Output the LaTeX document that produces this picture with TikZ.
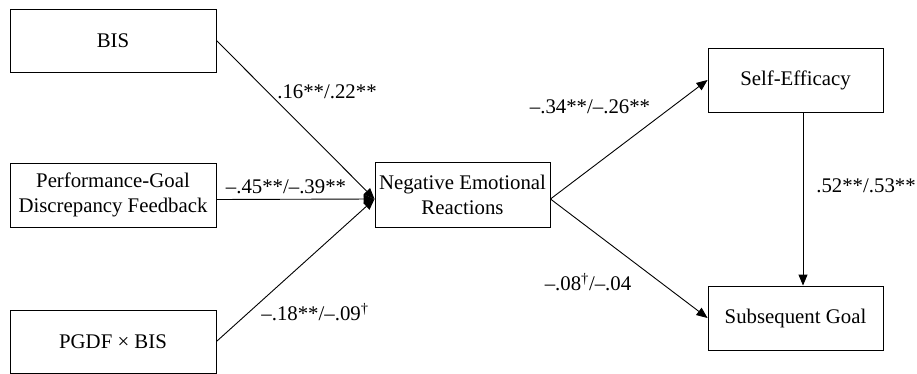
\documentclass[tikz,border=0pt]{standalone}
\usepackage{fontspec}
\setmainfont{Liberation Serif}
\usetikzlibrary{arrows.meta}
\begin{document}
\begin{tikzpicture}[x=1pt,y=-1pt,
  box/.style={draw, line width=0.9pt, inner sep=0pt, align=center, font=\rmfamily\fontsize{20.8}{25}\selectfont},
  lbl/.style={font=\rmfamily\fontsize{20.8}{25}\selectfont, inner sep=0pt},
  conn/.style={line width=0.9pt, -{Triangle[length=11pt,width=9pt]}}]
\useasboundingbox (0,0) rectangle (917,374);
\node[box, minimum width=206pt, minimum height=63pt] (bis) at (113,40.5) {BIS};
\node[box, minimum width=206pt, minimum height=64pt] (pgdf) at (113,195) {Performance-Goal\\Discrepancy Feedback};
\node[box, minimum width=206pt, minimum height=63pt] (int) at (113,341.5) {PGDF × BIS};
\node[box, minimum width=175pt, minimum height=65pt] (ner) at (462.5,194.5) {Negative Emotional\\Reactions};
\node[box, minimum width=175pt, minimum height=64pt] (se) at (795.5,80) {Self-Efficacy};
\node[box, minimum width=175pt, minimum height=64pt] (sg) at (795.5,318) {Subsequent Goal};
\coordinate (nin) at ([yshift=-4.5pt]ner.west);
\coordinate (nout) at ([yshift=-4.5pt]ner.east);
\coordinate (pout) at ([yshift=-4.5pt]pgdf.east);
\draw[conn] (bis.east) -- (nin);
\draw[conn] (pout) -- (nin);
\draw[conn] (int.east) -- (nin);
\draw[conn] (nout) -- (se.west);
\draw[conn] (nout) -- (sg.west);
\draw[conn] ([xshift=7.5pt]se.south) -- ([xshift=7.5pt]sg.north);
\node[lbl] (l1) at (327,92) {.16**/.22**};
\node[lbl] (l2) at (286,187) {–.45**/–.39**};
\node[lbl] (l3) at (315,312) {–.18**/–.09\textsuperscript{†}};
\node[lbl] (l4) at (590,107) {–.34**/–.26**};
\node[lbl] (l5) at (588,282) {–.08\textsuperscript{†}/–.04};
\node[lbl] (l6) at (866,186) {.52**/.53**};
\end{tikzpicture}
\end{document}
